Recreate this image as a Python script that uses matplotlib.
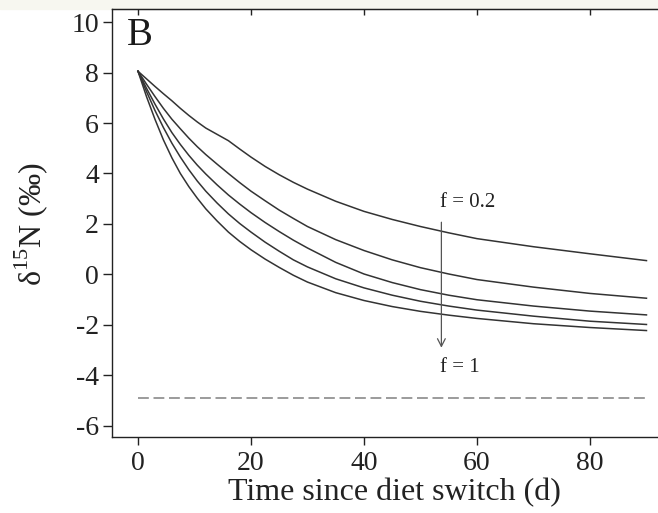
import numpy as np
import matplotlib
matplotlib.use('Agg')
import matplotlib.pyplot as plt
from matplotlib.patches import Rectangle

plt.rcParams['font.family'] = ['Liberation Serif', 'DejaVu Serif']
plt.rcParams['mathtext.fontset'] = 'custom'
plt.rcParams['mathtext.rm'] = 'Liberation Serif'
plt.rcParams['axes.unicode_minus'] = False

# time since diet switch (d)
t = [0, 1.5, 3, 4.5, 6, 7.5, 9, 10.5, 12, 14, 16, 18, 20, 22.5, 25, 27.5,
     30, 35, 40, 45, 50, 55, 60, 70, 80, 90]
# d15N curves, f = 0.2 (top) ... f = 1 (bottom)
f02 = [8.05, 7.75, 7.45, 7.16, 6.88, 6.58, 6.30, 6.04, 5.80, 5.55, 5.30, 4.97,
       4.65, 4.28, 3.95, 3.65, 3.38, 2.90, 2.50, 2.18, 1.90, 1.65, 1.42, 1.10, 0.82, 0.55]
f04 = [8.05, 7.54, 7.05, 6.58, 6.15, 5.77, 5.40, 5.06, 4.75, 4.37, 4.00, 3.64,
       3.30, 2.92, 2.55, 2.22, 1.90, 1.38, 0.95, 0.58, 0.27, 0.02, -0.20, -0.50, -0.75, -0.94]
f06 = [8.05, 7.38, 6.75, 6.16, 5.62, 5.15, 4.72, 4.33, 3.98, 3.55, 3.15, 2.79,
       2.45, 2.06, 1.70, 1.36, 1.05, 0.48, 0.02, -0.32, -0.60, -0.82, -1.00, -1.25, -1.45, -1.60]
f08 = [8.05, 7.25, 6.50, 5.82, 5.20, 4.65, 4.15, 3.70, 3.30, 2.83, 2.40, 2.02,
       1.68, 1.28, 0.92, 0.58, 0.30, -0.17, -0.53, -0.82, -1.06, -1.25, -1.41, -1.65, -1.85, -1.98]
f10 = [8.05, 7.05, 6.15, 5.33, 4.62, 4.00, 3.48, 3.02, 2.60, 2.12, 1.68, 1.31,
       0.98, 0.61, 0.28, -0.03, -0.30, -0.72, -1.03, -1.27, -1.46, -1.61, -1.74, -1.95, -2.10, -2.22]
diet = -4.9   # new diet value (dashed)

xticks = [0, 20, 40, 60, 80]
yticks = [-6, -4, -2, 0, 2, 4, 6, 8, 10]

W, H = 658, 513
fig = plt.figure(figsize=(W/100, H/100), dpi=100)
fig.patches.append(Rectangle((0, 1-9/H), 1, 9/H, transform=fig.transFigure,
                             color='#f7f7f0', zorder=-1))
ax = fig.add_axes([112/W, 1-437/H, (W-112)/W, (437-9)/H])

for yy in [f02, f04, f06, f08, f10]:
    ax.plot(t, yy, color='#333333', lw=1.1)
ax.plot([t[0], t[-1]], [diet, diet], color='#8a8a8a', lw=1.2, dashes=(6.5, 2.8))

# arrow for increasing f
ax.annotate('', xy=(53.7, -2.9), xytext=(53.7, 2.07),
            arrowprops=dict(arrowstyle='->,head_length=0.55,head_width=0.28',
                            color='#555555', lw=0.9, shrinkA=0, shrinkB=0))
ax.text(53.5, 2.86, 'f = 0.2', fontsize=15, color='#222222', ha='left', va='center')
ax.text(53.5, -3.67, 'f = 1', fontsize=15, color='#222222', ha='left', va='center')
ax.text(15/546, 0.916, 'B', transform=ax.transAxes, fontsize=28,
        color='#1a1a1a', ha='left', va='baseline')

ax.set_xlim(-4.6, 92.04)
ax.set_ylim(-6.436, 10.515)
ax.set_xticks(xticks)
ax.set_yticks(yticks)
ax.tick_params(labelsize=20, colors='#222222', length=6, width=1.0, pad=4)
ax.tick_params(axis='y', length=6.5, pad=3)
ax.spines['right'].set_visible(False)
for s in ['left', 'bottom', 'top']:
    ax.spines[s].set_color('#222222')
    ax.spines[s].set_linewidth(1.0)

top = ax.secondary_xaxis('top')
top.set_xticks(xticks)
top.tick_params(direction='in', length=4.5, width=1.0, labeltop=False, colors='#222222')
top.spines['top'].set_color('#222222')

fig.text(394/W, 1-493/H, 'Time since diet switch (d)', fontsize=23,
         color='#222222', ha='center', va='center')
fig.text(31/W, 1-224/H, 'δ$^{15}$N (‰)', fontsize=23, rotation=90,
         color='#222222', ha='center', va='center')

fig.savefig('out.png', dpi=100)
